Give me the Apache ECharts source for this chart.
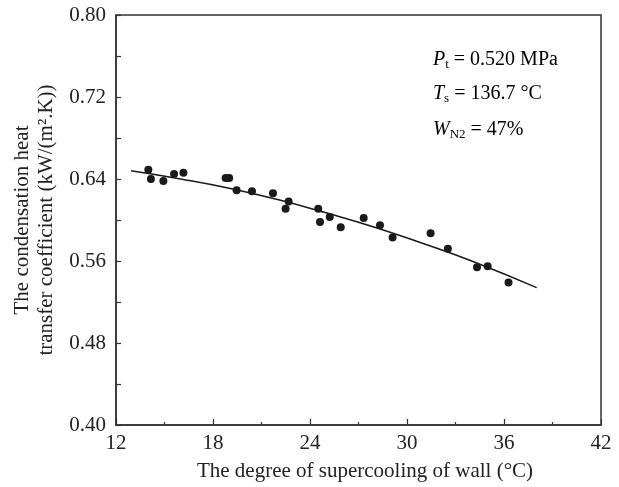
<!DOCTYPE html>
<html><head><meta charset="utf-8">
<script src="https://cdn.jsdelivr.net/npm/echarts@6/dist/echarts.min.js"></script>
<style>html,body{margin:0;padding:0;background:#fff}#c{width:619px;height:487px}</style>
</head><body><div id="c"></div>
<script>
// Measured points: [degree of supercooling (°C), heat transfer coefficient]
const measuredX = [14.0,14.16,14.93,15.59,16.17,18.78,19.0,19.46,20.41,21.71,22.49,22.68,24.51,24.62,25.22,25.90,27.32,28.33,29.11,31.46,32.53,34.33,34.99,36.28];
const measuredY = [0.649,0.640,0.638,0.645,0.646,0.641,0.641,0.629,0.628,0.626,0.611,0.618,0.611,0.598,0.603,0.593,0.602,0.595,0.583,0.587,0.572,0.554,0.555,0.539];
// Fitted curve
const fitX = [12.93,16,19,22,25,28,31,34,38.02];
const fitY = [0.648,0.640,0.631,0.620,0.607,0.593,0.577,0.560,0.534];
const xTicks = [12,18,24,30,36,42];
const yTicks = [0.40,0.48,0.56,0.64,0.72,0.80];

const font = '"Liberation Serif","DejaVu Serif",serif';
const chart = echarts.init(document.getElementById('c'));
const rich = {
  i:{fontStyle:'italic',fontSize:20,fontFamily:font,color:'#222'},
  s:{fontSize:13,fontFamily:font,color:'#222',padding:[10,0,0,0]},
  n:{fontSize:20,fontFamily:font,color:'#222'}
};
chart.setOption({
  animation:false,
  grid:{left:116,top:15,right:18,bottom:59,show:true,borderColor:'#333',borderWidth:1.5,backgroundColor:'transparent'},
  xAxis:{type:'value',min:xTicks[0],max:xTicks[xTicks.length-1],interval:6,
    name:'The degree of supercooling of wall (°C)',nameLocation:'middle',nameGap:36,
    nameTextStyle:{fontFamily:font,fontSize:21,color:'#222',padding:[0,0,0,13]},
    axisLine:{lineStyle:{color:'#333',width:1.5}},
    axisTick:{inside:true,length:6,lineStyle:{color:'#333',width:1.2}},
    minorTick:{show:true,splitNumber:2,length:3,lineStyle:{color:'#333',width:1.2}},
    splitLine:{show:false},
    axisLabel:{fontFamily:font,fontSize:21,color:'#222',margin:8}},
  yAxis:{type:'value',min:yTicks[0],max:yTicks[yTicks.length-1],interval:0.08,
    name:'The condensation heat\ntransfer coefficient (kW/(m².K))',nameLocation:'middle',nameGap:56,
    nameTextStyle:{fontFamily:font,fontSize:21,color:'#222',lineHeight:24},
    axisLine:{lineStyle:{color:'#333',width:1.5}},
    axisTick:{inside:true,length:5,lineStyle:{color:'#333',width:1.2}},
    minorTick:{show:true,splitNumber:2,length:5,lineStyle:{color:'#333',width:1.2}},
    splitLine:{show:false},
    axisLabel:{fontFamily:font,fontSize:21,color:'#222',margin:10,formatter:v=>v.toFixed(2)}},
  series:[
    {type:'scatter',data:measuredX.map((x,i)=>[x,measuredY[i]]),symbolSize:8,itemStyle:{color:'#1a1a1a',opacity:1}},
    {type:'line',data:fitX.map((x,i)=>[x,fitY[i]]),smooth:true,showSymbol:false,lineStyle:{color:'#1a1a1a',width:1.5}}
  ],
  graphic:[
    {type:'text',left:433,top:50,style:{text:'{i|P}{s|t}{n| = 0.520 MPa}',rich}},
    {type:'text',left:433,top:84,style:{text:'{i|T}{s|s}{n| = 136.7 °C}',rich}},
    {type:'text',left:433,top:120,style:{text:'{i|W}{s|N2}{n| = 47%}',rich}}
  ]
});
</script></body></html>
